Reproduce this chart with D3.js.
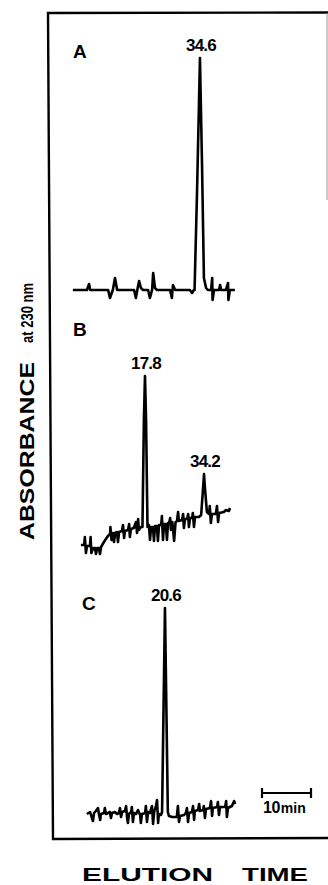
<!DOCTYPE html>
<html>
<head>
<meta charset="utf-8">
<script src="https://cdn.jsdelivr.net/npm/d3@7/dist/d3.min.js"></script>
<style>
  body { margin: 0; background: #fff; }
  svg { display: block; }
  text { font-family: "Liberation Sans", Arial, sans-serif; font-weight: bold; fill: #000; }
</style>
</head>
<body>
<div id="chart"></div>
<script>

// traces: [elution time (min), absorbance (rel. units)]
var traceA = [[-0.7,0],[3.2,0],[3.8,3],[4.1,0],[9.1,0],[9.6,-4],[10.4,0],[11.0,6],[11.6,0],
    [16.3,0],[16.8,-4],[17.3,1],[17.7,4.5],[18.2,1],[18.8,0],[20.2,0],[20.7,-4],[21.3,0],[21.6,8.5],
    [22.1,1],[22.7,0],[26.3,0],[26.8,-4],[27.1,2.5],[27.7,0],[31.8,0],[32.4,-1.5],[32.9,0],
    [33.1,0],[33.8,50],[34.6,116],[35.2,60],[35.7,6],[36.3,1],[36.8,0],
    [37.7,0],[38.0,6],[38.1,-5],[38.5,0],[39.9,0],[40.2,2.5],[40.5,0],[41.8,0],[42.4,3.5],
    [42.5,-5],[42.9,0],[44.3,0]];

var traceB = [[0.0,1],[0.9,1],[1.1,5],[1.4,-3],[1.7,0.5],[2.5,0.5],[2.7,5],[2.9,-3],[3.4,-0.5],
    [3.9,-0.5],[4.2,-3.5],[4.5,-0.5],[5.0,-0.5],[5.3,-3.5],[5.6,0],[6.4,2.5],[7.5,5.5],[8.1,6.5],
    [8.2,10],[8.5,3.5],[8.9,7],[9.2,2.5],[9.5,7],[10.0,7.5],[10.3,2.5],[10.6,7.5],[11.4,8],[11.7,11],
    [12.0,4.5],[12.2,8],[13.1,8.5],[13.4,11.5],[13.6,5],[13.9,9],[14.7,9.5],[15.3,12.5],[15.6,7],
    [15.9,14],[16.1,8.5],[16.7,10],[17.1,10],[17.5,63.5],[17.8,85.5],[18.1,63.5],[18.5,10],
    [18.9,11],[19.2,3.5],[19.5,10],[20.0,10],[20.3,3],[20.6,10.5],[21.1,10.5],[21.4,3],[21.7,11],
    [22.3,11],[22.5,15.5],[22.8,3.5],[23.1,11.5],[23.6,11.5],[23.9,3.5],[24.2,12],[24.5,12],
    [24.8,14.5],[25.0,8.5],[25.4,12.5],[25.9,3],[26.3,12.5],[26.7,13],[27.0,17.5],[27.2,13],
    [28.1,13.5],[28.4,16.5],[28.6,9.5],[28.9,14],[29.5,14],[29.8,16.5],[30.0,10],[30.3,14.5],
    [30.9,14.5],[31.1,17],[31.4,10],[31.7,15],[32.8,15],[33.4,16],[33.9,28.5],[34.2,36.5],
    [34.5,28.5],[35.0,17.5],[35.6,16.5],[35.8,20.5],[36.1,12],[36.4,16.5],[37.5,16.5],[37.8,20.5],
    [38.1,12.5],[38.4,17],[39.7,17.5],[40.3,18.5],[41.1,18],[41.4,19.5]];

var traceC = [[-1.1,0.5],[-0.2,1.5],[0.3,-1.5],[0.6,-3],[0.9,1],[1.4,2],[2.0,3.5],[2.3,0],
    [2.6,-2.5],[2.8,0.5],[3.7,1],[3.9,3.5],[4.2,0.5],[4.8,1],[5.3,1.5],[5.6,-1.5],[5.9,1],
    [6.7,1.5],[7.3,0.5],[7.8,1],[8.1,3.5],[8.4,-1],[8.7,1.5],[9.5,2],[9.8,4.5],[10.1,-1.5],
    [10.3,-4],[10.6,0.5],[11.2,1.5],[11.4,4],[11.7,-3.5],[12.0,1],[12.6,0.5],[13.1,2.5],[13.7,0],
    [13.9,-4],[14.2,0.5],[15.1,1],[15.3,4.5],[15.6,-3.5],[15.9,1.5],[16.4,1],[17.0,4.5],
    [17.3,-4.5],[17.6,1.5],[18.1,4.5],[18.4,7.5],[18.7,-4],[18.9,0.5],[19.5,0],[19.8,1.5],
    [20.6,103.5],[21.4,1.5],[21.7,-0.5],[22.6,-1],[23.4,-1],[23.9,-1],[24.2,4.5],[24.5,-3.5],
    [24.8,-0.5],[25.9,0],[26.4,1],[26.7,3.5],[27.0,-3.5],[27.3,1],[28.1,1.5],[28.4,4.5],
    [28.7,-2.5],[28.9,2],[29.8,2.5],[30.1,5.5],[30.3,2],[31.2,2.5],[31.4,4.5],[31.7,-1.5],
    [32.0,3],[33.1,3.5],[33.4,7],[33.7,-0.5],[33.9,3.5],[35.1,4],[35.3,6.5],[35.6,0],[35.9,4],
    [37.3,4],[37.6,7],[37.8,-1],[38.1,3.5],[39.2,4.5],[39.8,7],[40.1,5.5]];

// labelled peaks (retention times, min)
var peaksA = [34.6];
var peaksB = [17.8, 34.2];
var peaksC = [20.6];

var panelNames = ["A", "B", "C"];
var scaleBarMinutes = 10;

var width = 328, height = 885;
var pxPerMin = 3.6;

var svg = d3.select("#chart").append("svg")
    .attr("width", width)
    .attr("height", height);

// frame (hand drawn box, slightly skewed on the left)
var frame = svg.append("g").attr("class", "frame")
    .attr("fill", "none").attr("stroke", "#000").attr("stroke-width", 2.4);
frame.append("path").attr("d", "M328,12.5 L48,13 L53,839 L328,838");
frame.append("line")
    .attr("x1", 327).attr("x2", 327).attr("y1", 13).attr("y2", 200)
    .attr("stroke", "#999").attr("stroke-width", 1);

// panel layout: where time zero and zero absorbance sit
var panels = [
    { name: panelNames[0], trace: traceA, peaks: peaksA, x0: 75.4, y0: 290, lx: 73, ly: 58 },
    { name: panelNames[1], trace: traceB, peaks: peaksB, x0: 80.9, y0: 547, lx: 73, ly: 336 },
    { name: panelNames[2], trace: traceC, peaks: peaksC, x0: 90.8, y0: 815, lx: 82, ly: 610 }
];

panels.forEach(function(p) {
    var x = d3.scaleLinear().domain([0, 45]).range([p.x0, p.x0 + 45 * pxPerMin]);
    var y = d3.scaleLinear().domain([0, 120]).range([p.y0, p.y0 - 240]);

    var g = svg.append("g").attr("class", "panel panel-" + p.name);

    var line = d3.line()
        .x(function(d) { return x(d[0]); })
        .y(function(d) { return y(d[1]); });

    g.append("path")
        .datum(p.trace)
        .attr("d", line)
        .attr("fill", "none")
        .attr("stroke", "#000")
        .attr("stroke-width", 2.6)
        .attr("stroke-linejoin", "round");

    // peak labels sit just above the apex
    g.selectAll(".peak-label")
        .data(p.peaks)
        .enter().append("text")
        .attr("class", "peak-label")
        .attr("x", function(d) { return x(d) + 1; })
        .attr("y", function(d) {
            var top = d3.max(p.trace.filter(function(e) { return Math.abs(e[0] - d) < 0.2; }),
                function(e) { return e[1]; });
            return y(top) - 7;
        })
        .attr("text-anchor", "middle")
        .attr("font-size", 17)
        .attr("letter-spacing", -0.8)
        .text(function(d) { return d3.format(".1f")(d); });

    g.append("text")
        .attr("x", p.lx)
        .attr("y", p.ly)
        .attr("font-size", 19)
        .text(p.name);
});

// 10 min scale bar
var barScale = d3.scaleLinear().domain([0, scaleBarMinutes]).range([262, 311]);
var bar = svg.append("g").attr("class", "scale-bar")
    .attr("stroke", "#000").attr("stroke-width", 2.2);
bar.append("line")
    .attr("x1", barScale(0)).attr("x2", barScale(scaleBarMinutes))
    .attr("y1", 793).attr("y2", 793);
[0, scaleBarMinutes].forEach(function(v) {
    bar.append("line")
        .attr("x1", barScale(v)).attr("x2", barScale(v))
        .attr("y1", 788).attr("y2", 798);
});
var barLabel = svg.append("text")
    .attr("x", barScale(0) + 1)
    .attr("y", 813);
barLabel.append("tspan").attr("font-size", 16).attr("letter-spacing", -0.5).text(scaleBarMinutes);
barLabel.append("tspan").attr("font-size", 14).attr("dx", 1).text("min");

// axis titles
svg.append("text")
    .attr("transform", "translate(34,540) rotate(-90)")
    .attr("font-size", 21)
    .attr("textLength", 178)
    .attr("lengthAdjust", "spacingAndGlyphs")
    .text("ABSORBANCE");

svg.append("text")
    .attr("transform", "translate(33,343) rotate(-90)")
    .attr("font-size", 16)
    .attr("textLength", 60)
    .attr("lengthAdjust", "spacingAndGlyphs")
    .text("at 230 nm");

svg.append("text")
    .attr("x", 82)
    .attr("y", 881)
    .attr("font-size", 18)
    .attr("textLength", 131)
    .attr("lengthAdjust", "spacingAndGlyphs")
    .text("ELUTION");

svg.append("text")
    .attr("x", 242)
    .attr("y", 881)
    .attr("font-size", 18)
    .attr("textLength", 66)
    .attr("lengthAdjust", "spacingAndGlyphs")
    .text("TIME");

</script>
</body>
</html>
